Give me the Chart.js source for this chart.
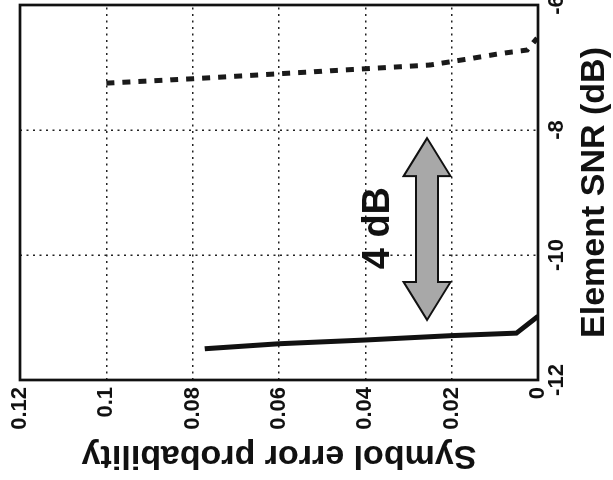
<!DOCTYPE html>
<html>
<head>
<meta charset="utf-8">
<script src="https://cdn.jsdelivr.net/npm/chart.js@4.4.1/dist/chart.umd.min.js"></script>
<style>
  html, body { margin: 0; padding: 0; background: #fff; overflow: hidden; width: 613px; height: 480px; }
  #wrap { position: absolute; left: 0; top: 0; width: 480px; height: 613px;
          transform-origin: 0 0; transform: translate(0px, 480px) rotate(-90deg); }
</style>
</head>
<body>
<div id="wrap"><canvas id="c" width="480" height="613"></canvas></div>
<script>
// ---- data ----
const snrTickValues = [-12, -10, -8, -6];
const snrTickLabels = ['-12', '-10', '-8', '-6'];
const probTickValues = [0, 0.02, 0.04, 0.06, 0.08, 0.1, 0.12];
const probTickLabels = ['0', '0.02', '0.04', '0.06', '0.08', '0.1', '0.12'];

// dashed curve
const dashedProb = [0.1, 0.08, 0.06, 0.04, 0.025, 0.015, 0.009, 0.0025, 0.0002];
const dashedSnr  = [-7.25, -7.18, -7.10, -7.02, -6.96, -6.85, -6.78, -6.72, -6.53];
// solid curve
const solidProb = [0.0772, 0.06, 0.04, 0.02, 0.005, 0];
const solidSnr  = [-11.50, -11.42, -11.36, -11.29, -11.25, -10.98];

// annotation (double arrow + label)
const arrowSnr = [-11.04, -8.13];
const arrowProb = 0.0257;
const arrowLabel = '4 dB';
const arrowLabelSnr = -9.57;
const arrowLabelProb = 0.037;

const axisTitleX = 'Element SNR (dB)';
const axisTitleY = 'Symbol error probability';

// ---- chart ----
const FONT = '"Liberation Sans", Arial, sans-serif';
const toPts = (xs, ys) => xs.map((v, i) => ({ x: ys[i], y: v }));

const framePlugin = {
  id: 'frame',
  afterDatasetsDraw(chart) {
    const { ctx, chartArea: a, scales } = chart;
    // double arrow
    const x1 = scales.x.getPixelForValue(arrowSnr[0]);
    const x2 = scales.x.getPixelForValue(arrowSnr[1]);
    const yc = scales.y.getPixelForValue(arrowProb);
    const head = 38, hw = 23.5, sw = 11;
    ctx.save();
    ctx.beginPath();
    ctx.moveTo(x1, yc);
    ctx.lineTo(x1 + head, yc - hw);
    ctx.lineTo(x1 + head, yc - sw);
    ctx.lineTo(x2 - head, yc - sw);
    ctx.lineTo(x2 - head, yc - hw);
    ctx.lineTo(x2, yc);
    ctx.lineTo(x2 - head, yc + hw);
    ctx.lineTo(x2 - head, yc + sw);
    ctx.lineTo(x1 + head, yc + sw);
    ctx.lineTo(x1 + head, yc + hw);
    ctx.closePath();
    ctx.fillStyle = '#a8a8a8';
    ctx.fill();
    ctx.lineWidth = 2;
    ctx.strokeStyle = '#111';
    ctx.lineJoin = 'miter';
    ctx.stroke();
    // label
    ctx.fillStyle = '#111';
    ctx.font = 'bold 38px ' + FONT;
    ctx.textAlign = 'center';
    ctx.textBaseline = 'middle';
    ctx.fillText(arrowLabel, scales.x.getPixelForValue(arrowLabelSnr), scales.y.getPixelForValue(arrowLabelProb));
    // frame
    ctx.lineWidth = 2.7;
    ctx.strokeStyle = '#111';
    ctx.strokeRect(a.left, a.top, a.right - a.left, a.bottom - a.top);
    ctx.restore();
  }
};

function zeroPad(s) { s.paddingLeft = 0; s.paddingRight = 0; s.paddingTop = 0; s.paddingBottom = 0; }

new Chart(document.getElementById('c'), {
  type: 'line',
  data: {
    datasets: [
      {
        data: toPts(dashedProb, dashedSnr),
        borderColor: '#1a1a1a',
        borderWidth: 5,
        borderDash: [8, 8],
        borderCapStyle: 'butt',
        pointRadius: 0,
        tension: 0,
        fill: false
      },
      {
        data: toPts(solidProb, solidSnr),
        borderColor: '#111',
        borderWidth: 5,
        pointRadius: 0,
        tension: 0,
        fill: false
      }
    ]
  },
  options: {
    responsive: false,
    animation: false,
    devicePixelRatio: 1,
    layout: { padding: { top: 20, right: 5, left: 0, bottom: 0 } },
    plugins: { legend: { display: false }, tooltip: { enabled: false } },
    scales: {
      x: {
        type: 'linear',
        position: 'bottom',
        min: -12, max: -6,
        afterFit(s) { s.height = 75; zeroPad(s); },
        afterBuildTicks(s) { s.ticks = snrTickValues.map(v => ({ value: v })); },
        ticks: {
          color: '#111',
          padding: 6,
          font: { family: FONT, size: 22, weight: 'bold' },
          callback: (v) => snrTickLabels[snrTickValues.indexOf(v)],
          maxRotation: 0, minRotation: 0
        },
        grid: { color: '#222', lineWidth: 1.5, drawTicks: false },
        border: { display: false, dash: [2, 4.5] },
        title: {
          display: true, text: axisTitleX, color: '#111',
          font: { family: FONT, size: 34, weight: 'bold', lineHeight: 1 },
          padding: { top: 0, bottom: 1 }
        }
      },
      y: {
        type: 'linear',
        position: 'left',
        min: 0, max: 0.12,
        afterFit(s) { s.width = 100; zeroPad(s); },
        afterBuildTicks(s) { s.ticks = probTickValues.map(v => ({ value: v })); },
        ticks: {
          color: '#111',
          padding: 7,
          font: { family: FONT, size: 22, weight: 'bold' },
          callback: (v) => probTickLabels[probTickValues.findIndex(p => Math.abs(p - v) < 1e-9)]
        },
        grid: { color: '#222', lineWidth: 1.5, drawTicks: false },
        border: { display: false, dash: [2, 4.5] },
        title: {
          display: true, text: axisTitleY, color: '#111',
          font: { family: FONT, size: 34, weight: 'bold', lineHeight: 1 },
          padding: { top: 8, bottom: 0 }
        }
      }
    }
  },
  plugins: [framePlugin]
});
</script>
</body>
</html>
